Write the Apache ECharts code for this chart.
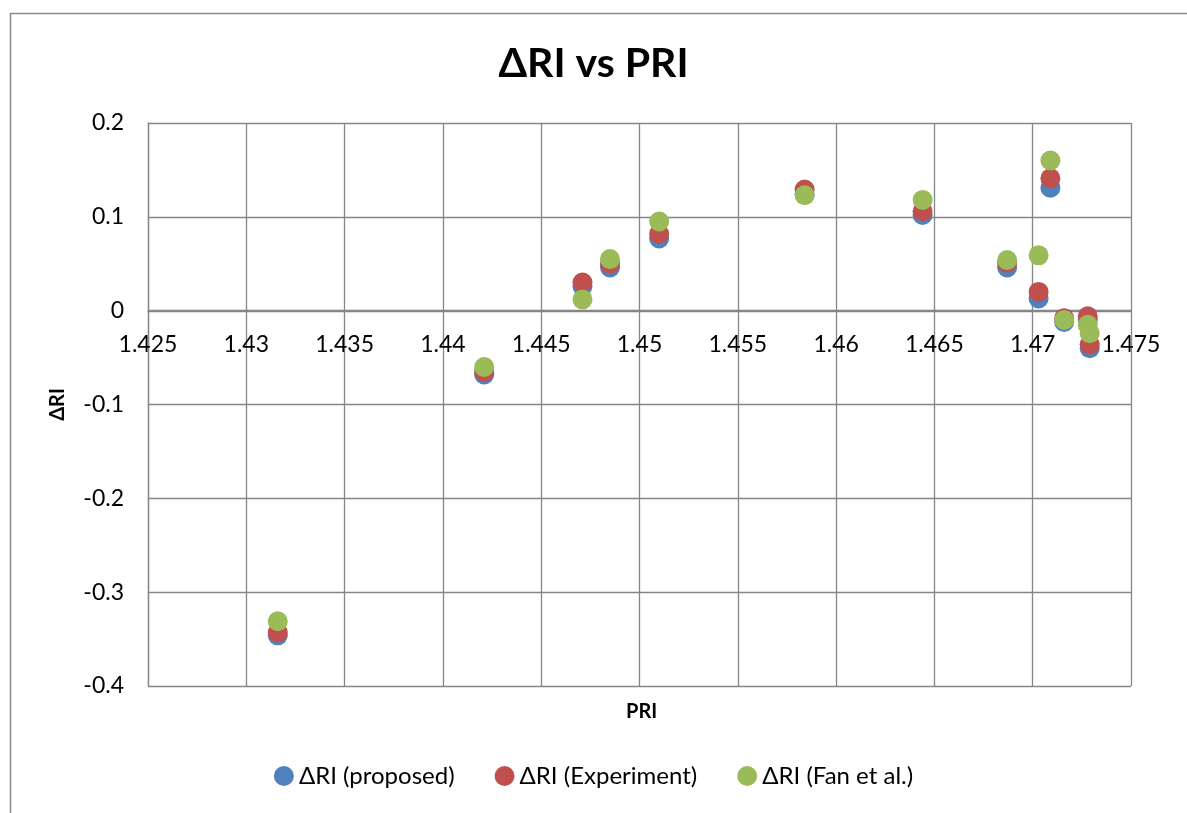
<!DOCTYPE html>
<html>
<head>
<meta charset="utf-8">
<script src="https://cdn.jsdelivr.net/npm/echarts@6/dist/echarts.min.js"></script>
<style>
  html, body { margin: 0; padding: 0; background: #fff; }
  #chart { width: 1187px; height: 813px; }
</style>
</head>
<body>
<div id="chart"></div>
<script>
// PRI values (x) shared by the three series
const pri = [1.4316, 1.4421, 1.4471, 1.4485, 1.4510, 1.4584, 1.4644, 1.4687, 1.4703, 1.4709, 1.4716, 1.4728, 1.4729]
const riProposed = [-0.346, -0.068, 0.026, 0.046, 0.077, 0.124, 0.102, 0.046, 0.013, 0.131, -0.012, -0.010, -0.040]
const riExperiment = [-0.343, -0.065, 0.030, 0.050, 0.082, 0.129, 0.106, 0.051, 0.020, 0.141, -0.008, -0.006, -0.036]
const riFan = [-0.331, -0.060, 0.012, 0.055, 0.095, 0.123, 0.118, 0.054, 0.059, 0.160, -0.010, -0.015, -0.024]
const seriesNames = ['ΔRI (proposed)', 'ΔRI (Experiment)', 'ΔRI (Fan et al.)']
const colors = ['#4f81bd', '#c0504d', '#9bbb59']

const font = 'Lato, "Open Sans", sans-serif'
const gridColor = '#868686'

function pairs(xs, ys) {
  return xs.map((x, i) => [x, ys[i]])
}

function getChartOption() {
  const allValues = [riProposed, riExperiment, riFan]
  return {
    textStyle: {fontFamily: font},
    title: [
      {
        text: 'ΔRI vs PRI',
        left: 'center',
        top: 38,
        textStyle: {fontFamily: font, fontSize: 41, fontWeight: 'bold', color: '#000'}
      },
      {
        text: 'PRI',
        left: 621,
        top: 697,
        textStyle: {fontFamily: font, fontSize: 20, fontWeight: 'bold', color: '#000'}
      }
    ],
    graphic: [
      {
        type: 'rect',
        left: 8,
        top: 11,
        shape: {width: 1200, height: 820},
        style: {fill: 'none', stroke: '#8a8a8a', lineWidth: 1.5},
        silent: true
      }
    ],
    legend: {
      bottom: 20,
      left: 'center',
      itemWidth: 20,
      itemHeight: 20,
      itemGap: 40,
      icon: 'circle',
      textStyle: {fontFamily: font, fontSize: 24, color: '#000'},
      data: seriesNames
    },
    grid: {
      left: 148,
      right: 56,
      top: 123,
      bottom: 127
    },
    xAxis: {
      type: 'value',
      min: 1.425,
      max: 1.475,
      interval: 0.005,
      // the axis crosses at ΔRI = 0 (375 px above the grid bottom)
      offset: -375,
      axisLine: {onZero: false, lineStyle: {color: gridColor, width: 1.3}},
      axisTick: {show: false},
      axisLabel: {
        margin: 22,
        fontSize: 23,
        color: '#000',
        fontFamily: font,
        formatter: v => parseFloat(v.toFixed(3)).toString()
      },
      splitLine: {show: true, lineStyle: {color: gridColor, width: 1.3}}
    },
    yAxis: {
      type: 'value',
      min: -0.4,
      max: 0.2,
      interval: 0.1,
      name: 'ΔRI',
      nameLocation: 'middle',
      nameRotate: 90,
      nameGap: 80,
      nameTextStyle: {fontFamily: font, fontSize: 20, fontWeight: 'bold', color: '#000'},
      axisLine: {show: true, lineStyle: {color: gridColor, width: 1.3}},
      axisTick: {show: false},
      axisLabel: {
        margin: 24,
        fontSize: 23,
        color: '#000',
        fontFamily: font,
        formatter: v => parseFloat(v.toFixed(1)).toString()
      },
      splitLine: {show: true, lineStyle: {color: gridColor, width: 1.3}}
    },
    series: seriesNames.map((name, i) => ({
      name: name,
      type: 'scatter',
      symbol: 'circle',
      symbolSize: 20,
      itemStyle: {color: colors[i], opacity: 1},
      data: pairs(pri, allValues[i])
    }))
  }
}

const chart = echarts.init(document.getElementById('chart'), null, {renderer: 'canvas'})
chart.setOption(getChartOption())
</script>
</body>
</html>
